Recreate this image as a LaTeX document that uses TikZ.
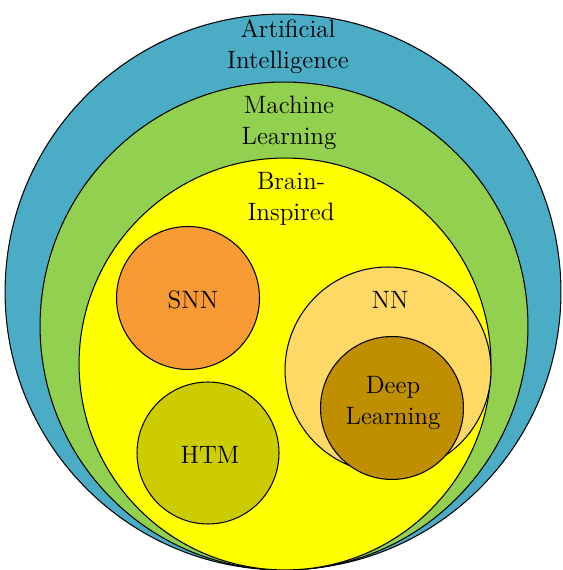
\documentclass[tikz,border=0pt]{standalone}
\usepackage{tikz}
\usetikzlibrary{positioning}
\definecolor{aiblue}{HTML}{4BACC6}
\definecolor{mlgreen}{HTML}{92D050}
\definecolor{biyellow}{HTML}{FFFF00}
\definecolor{snnorange}{HTML}{F99B35}
\definecolor{htmolive}{HTML}{CCCC00}
\definecolor{nnpeach}{HTML}{FFD966}
\definecolor{dlbrown}{HTML}{BF8F00}
\tikzset{
  setcircle/.style={
    circle, draw=black, fill=#1, line width=0.6pt, inner sep=0pt
  },
  setcircle/.default=white,
  setlabel/.style={
    font=\fontsize{14.3}{17.6}\selectfont, align=center, inner sep=0pt
  },
}
\begin{document}
\begin{tikzpicture}[x=0.02cm, y=0.02cm]
  \useasboundingbox (0,0) rectangle (562,570);
  \clip (0,0) rectangle (562,570);

  % nested sets, all touching at the bottom
  \node[setcircle=aiblue, minimum size=11.12cm] (ai) at (283,278) {};
  \node[setcircle=mlgreen, minimum size=9.76cm] (ml) at (284,244) {};
  \node[setcircle=biyellow, minimum size=8.24cm] (bi) at (285,206) {};

  % brain-inspired families
  \node[setcircle=snnorange, minimum size=2.86cm] (snn) at (188,272) {};
  \node[setcircle=htmolive, minimum size=2.84cm] (htm) at (208,117) {};
  \node[setcircle=nnpeach, minimum size=4.12cm] (nn) at (388,200) {};
  \node[setcircle=dlbrown, minimum size=2.86cm] (dl) at (392,162) {};

  % labels
  \node[setlabel] (ailabel) at (288,523) {Artificial\\Intelligence};
  \node[setlabel] (mllabel) at (289,447) {Machine\\Learning};
  \node[setlabel] (bilabel) at (291,371) {Brain-\\Inspired};
  \node[setlabel] (snnlabel) at (193,270) {SNN};
  \node[setlabel] (htmlabel) at (210,115) {HTM};
  \node[setlabel] (nnlabel) at (390,270) {NN};
  \node[setlabel] (dllabel) at (393,167) {Deep\\Learning};
\end{tikzpicture}
\end{document}
